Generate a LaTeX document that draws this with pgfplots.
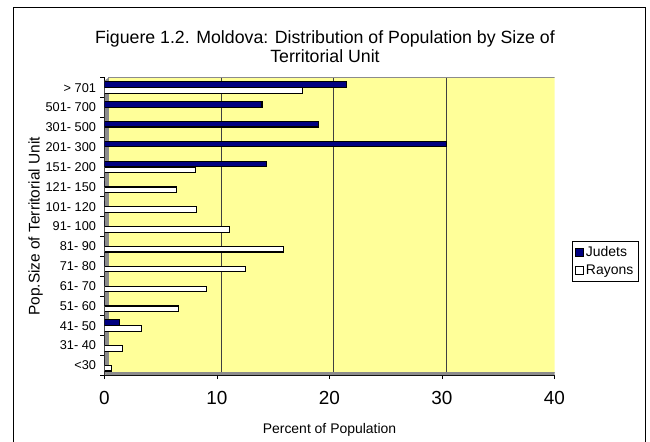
\documentclass[border=0pt]{standalone}
\usepackage{pgfplots}
\usepackage{pgfplotstable}
\pgfplotsset{compat=1.18}
\usepackage{fontspec}
\setmainfont{Liberation Sans}

\definecolor{judets}{HTML}{000080}
\definecolor{wall}{HTML}{FFFF99}
\definecolor{side}{HTML}{8C8C8C}

% share of population (%) by size class of territorial unit
\pgfplotstableread{
idx judets rayons
0   0      0.6
1   0      1.6
2   1.3    3.3
3   0      6.6
4   0      9.1
5   0      12.5
6   0      15.9
7   0      11.1
8   0      8.2
9   0      6.4
10  14.4   8.1
11  30.4   0
12  19.0   0
13  14.0   0
14  21.5   17.6
}\popdata

\begin{document}
\begin{tikzpicture}
\useasboundingbox (0bp,0bp) rectangle (650bp,442bp);
% outer frame
\draw[line width=0.9bp] (13.5bp,-5bp) -- (13.5bp,434.5bp) -- (645bp,434.5bp) -- (645bp,-5bp);
% title
\node[font=\fontsize{17.8}{19}\selectfont, align=center] at (325bp,395.5bp)
  {Figuere 1.2. Moldova: Distribution of Population by Size of\\Territorial Unit};
\begin{axis}[
  at={(104.5bp,66.8bp)}, anchor=south west, scale only axis,
  width=450bp, height=297.5bp,
  xmin=0, xmax=40, ymin=-0.5, ymax=14.5,
  axis x line*=bottom, axis y line*=left,
  axis line style={line width=0.8bp, -},
  xbar, bar width=5.5bp,
  xtick={0,10,20,30,40},
  ytick={0,...,14},
  yticklabels={<30, 31- 40, 41- 50, 51- 60, 61- 70, 71- 80, 81- 90, 91- 100,
    101- 120, 121- 150, 151- 200, 201- 300, 301- 500, 501- 700, > 701},
  /pgf/number format/assume math mode=true,
  major tick length=4bp,
  tick align=outside,
  tick style={black, line width=0.7bp},
  ytick style={draw=none},
  extra y ticks={-0.5,0.5,...,14.5},
  extra y tick labels={},
  extra y tick style={ytick style={draw=black}, tick style={black, line width=0.7bp}},
  xticklabel style={font=\fontsize{19}{21}\selectfont, yshift=-9bp},
  yticklabel style={font=\fontsize{12.8}{14}\selectfont, xshift=-1bp},
  xlabel={Percent of Population},
  xlabel style={font=\fontsize{14}{16}\selectfont, yshift=-11bp},
  ylabel={Pop.Size of Territorial Unit},
  ylabel style={font=\fontsize{15.5}{17}\selectfont, yshift=-12bp},
  legend style={at={(1.039,0.452)}, anchor=north west, draw=black, line width=0.7bp,
    font=\fontsize{14}{16}\selectfont, inner xsep=3bp, inner ysep=3bp,
    row sep=3.5bp},
  legend cell align=left,
  legend image code/.code={\draw[#1, line width=0.6bp] (1bp,-4bp) rectangle (9bp,4bp);},
]
% back wall, side wall, floor and grid of the 3-D box
\fill[wall, draw=side, line width=0.6bp] ([xshift=4bp,yshift=3bp]axis cs:0,-0.5) rectangle ([xshift=4bp]axis cs:40,14.5);
\fill[side] (axis cs:0,-0.5) -- ([xshift=4bp,yshift=3bp]axis cs:0,-0.5) -- ([xshift=4bp]axis cs:0,14.5) -- ([yshift=-3bp]axis cs:0,14.5) -- cycle;
\fill[side] (axis cs:0,-0.5) -- (axis cs:40,-0.5) -- ([xshift=4bp,yshift=3bp]axis cs:40,-0.5) -- ([xshift=4bp,yshift=3bp]axis cs:0,-0.5) -- cycle;
\draw[black!75, line width=0.7bp] ([xshift=4bp,yshift=3bp]axis cs:10,-0.5) -- ([xshift=4bp]axis cs:10,14.5);
\draw[black!75, line width=0.7bp] ([xshift=4bp,yshift=3bp]axis cs:20,-0.5) -- ([xshift=4bp]axis cs:20,14.5);
\draw[black!75, line width=0.7bp] ([xshift=4bp,yshift=3bp]axis cs:30,-0.5) -- ([xshift=4bp]axis cs:30,14.5);
% bars
\addplot[fill=judets, draw=black, line width=1.1bp, bar shift=3bp] table[x=judets, y=idx] {\popdata};
\addplot[fill=white, draw=black, line width=1.1bp, bar shift=-3bp] table[x=rayons, y=idx] {\popdata};
\legend{Judets, Rayons}
\end{axis}
\end{tikzpicture}
\end{document}
